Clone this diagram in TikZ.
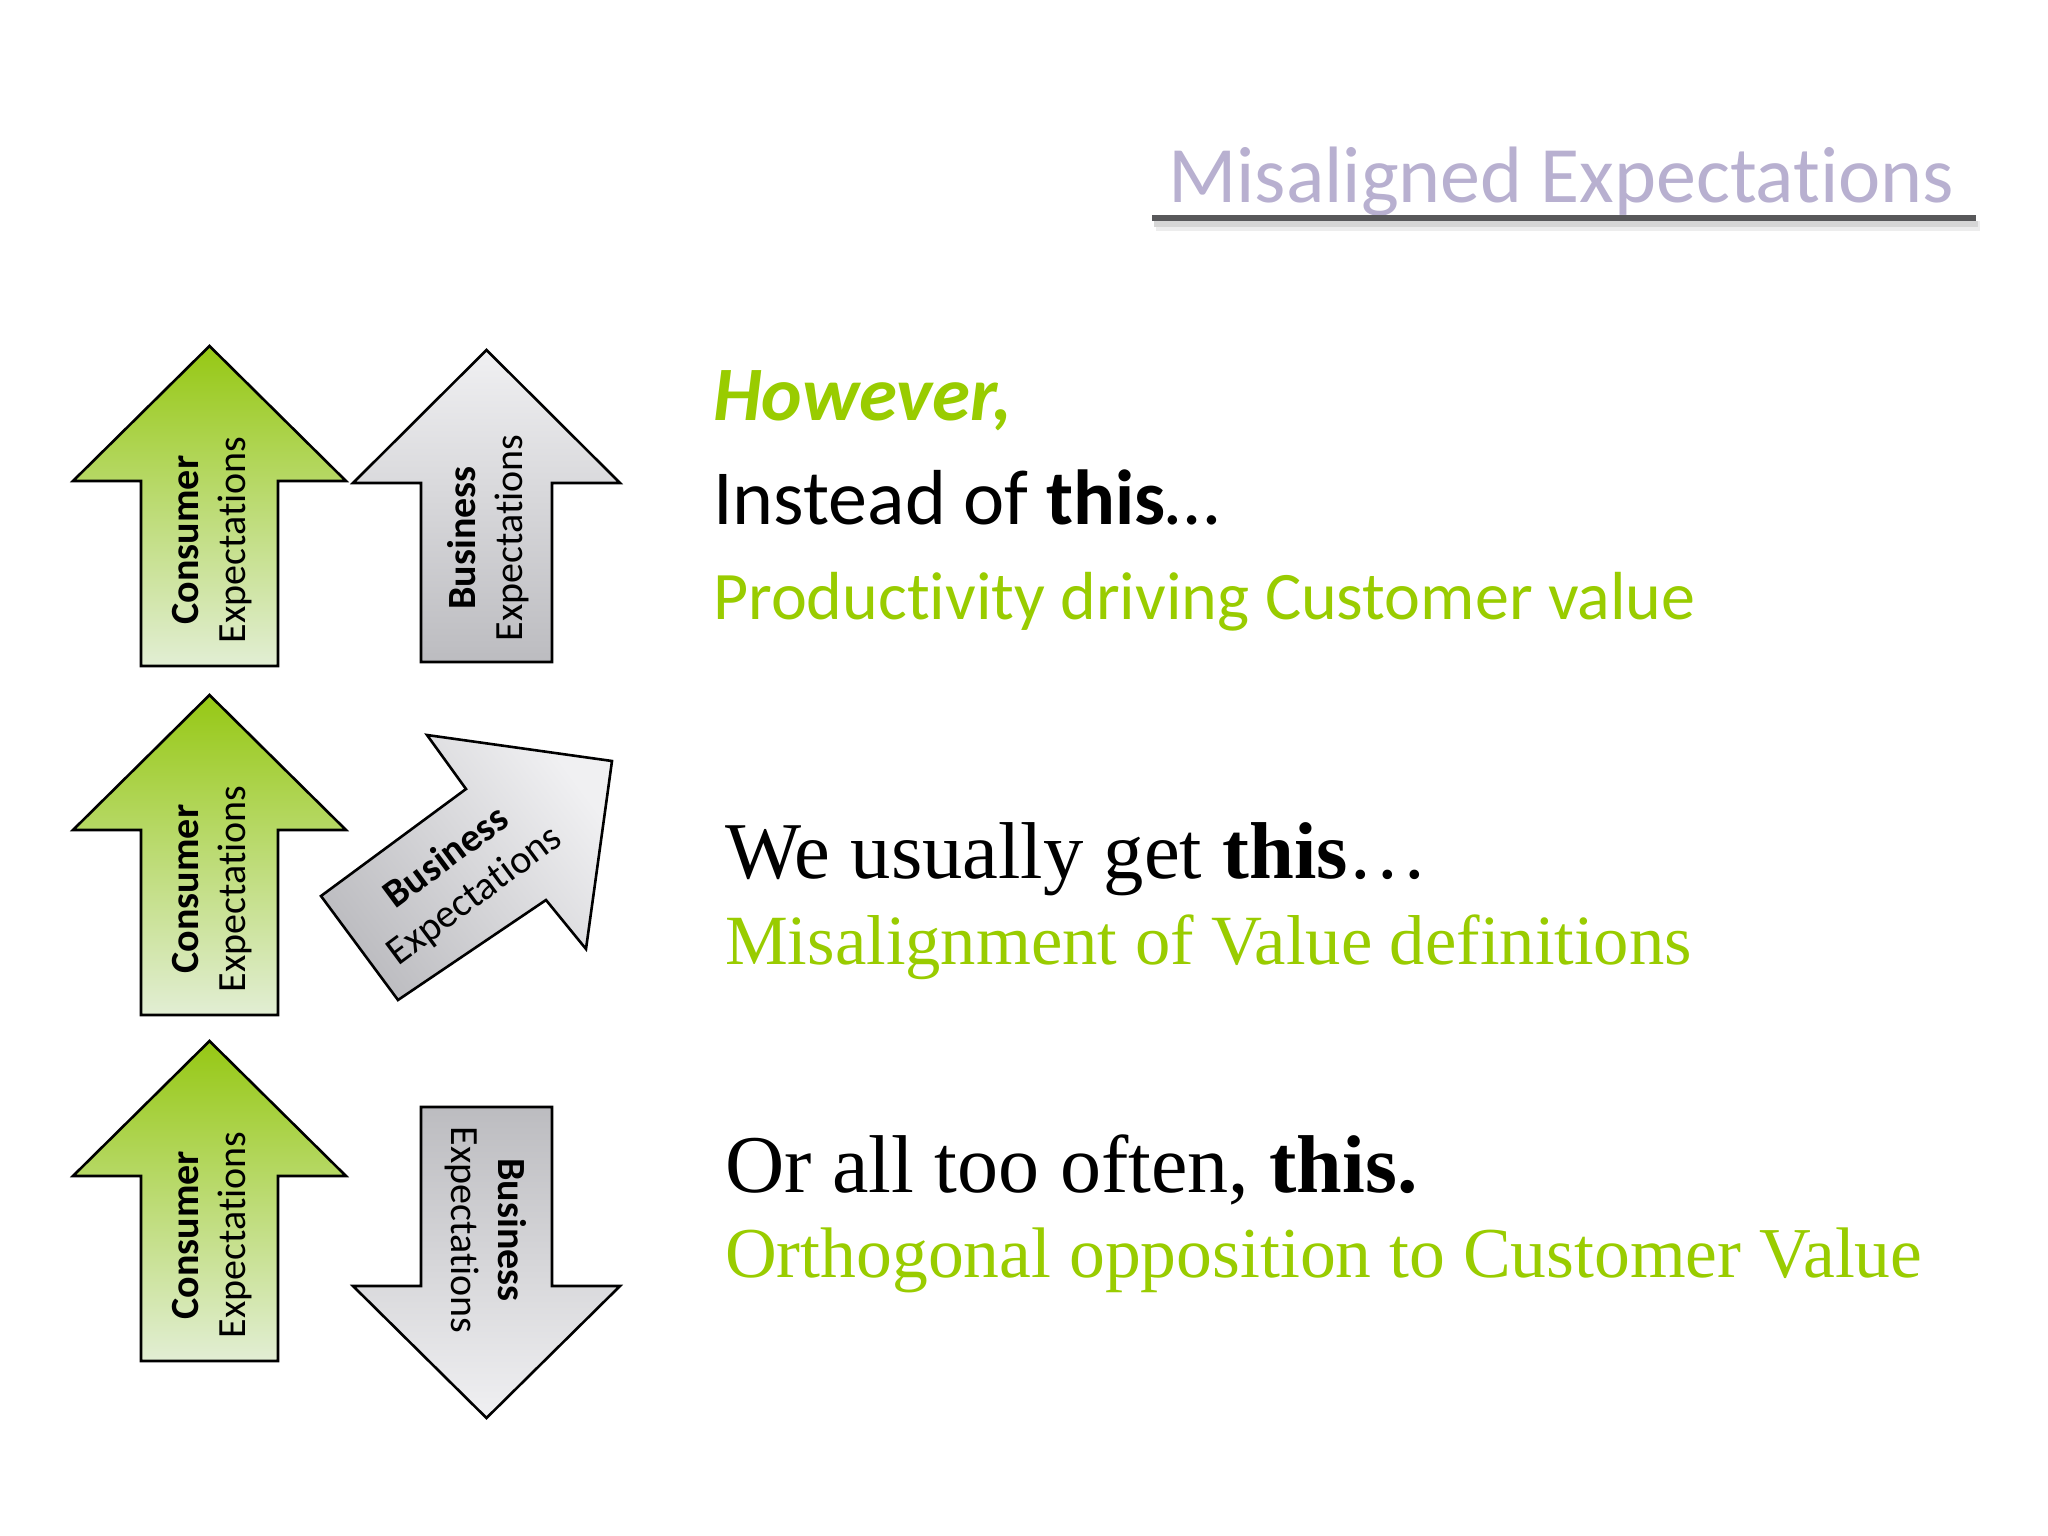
\documentclass[tikz,border=0pt]{standalone}
\usepackage{fontspec}
\setmainfont{Carlito}[Ligatures=NoCommon]
\newfontfamily\serifx{Liberation Serif}
\definecolor{accgreen}{RGB}{153,204,0}
\definecolor{titlecol}{RGB}{184,176,208}
\definecolor{ulcol}{RGB}{88,88,90}
\definecolor{cgtop}{RGB}{150,200,20}
\definecolor{cgbot}{RGB}{226,238,212}
\definecolor{gylight}{RGB}{240,240,242}
\definecolor{gydark}{RGB}{188,188,192}
\begin{document}
\begin{tikzpicture}[x=1pt,y=-1pt,
  arrowline/.style={draw=black, line width=2.6pt, line join=miter},
  consumer/.style={arrowline, top color=cgtop, bottom color=cgbot},
  bizup/.style={arrowline, top color=gylight, bottom color=gydark},
  bizdown/.style={arrowline, top color=gydark, bottom color=gylight},
  bizdiag/.style={arrowline, top color=gylight, bottom color=gydark, shading angle=-53.4},
  lbl/.style={inner sep=0pt, align=center, font=\fontsize{40}{47}\selectfont},
  txt/.style={inner sep=0pt, anchor=base west}]
\useasboundingbox[fill=white] (0,0) rectangle (2048,1536);

% title
\node[txt, text=titlecol, font=\fontsize{80}{96}\selectfont] (title) at (1168,202) {Misaligned Expectations};
\coordinate (ul1) at (1152,218);
\coordinate (ul2) at (1976,218);
\draw[line width=10pt, black!7] (1156,226) -- (1980,226);
\draw[line width=6pt, black!16] (1154,224) -- (1978,224);
\draw[line width=5.5pt, ulcol] (ul1) -- (ul2);

% consumer arrows
\foreach \ty in {346,695,1041} {
  \path[consumer] (209.5,\ty) -- ++(136.5,135) -- ++(-68,0) -- ++(0,185) -- ++(-137,0) -- ++(0,-185) -- ++(-68,0) -- cycle;
}
\node[lbl, rotate=90] (ct1) at (212,540) {\textbf{Consumer}\\Expectations};
\node[lbl, rotate=90] (ct2) at (212,889) {\textbf{Consumer}\\Expectations};
\node[lbl, rotate=90] (ct3) at (212,1235) {\textbf{Consumer}\\Expectations};

% business arrow, row 1 (up)
\path[bizup] (486.5,350) -- ++(133.5,133) -- ++(-68,0) -- ++(0,179) -- ++(-131,0) -- ++(0,-179) -- ++(-68,0) -- cycle;
\node[lbl, rotate=90] (bt1) at (488,538) {\textbf{Business}\\Expectations};

% business arrow, row 2 (diagonal)
\path[bizdiag] (612,761) -- (586,949) -- (546,900) -- (398,1000) -- (321,896) -- (466,789) -- (427,735) -- cycle;
\node[lbl, rotate=36.6] (bt2) at (461,877) {\textbf{Business}\\Expectations};

% business arrow, row 3 (down)
\path[bizdown] (486.5,1418) -- ++(133.5,-132) -- ++(-68,0) -- ++(0,-179) -- ++(-131,0) -- ++(0,179) -- ++(-68,0) -- cycle;
\node[lbl, rotate=-90] (bt3) at (486,1230) {\textbf{Business}\\Expectations};

% texts
\node[txt, text=accgreen, font=\fontsize{77}{90}\selectfont\bfseries\itshape] (however) at (713,420) {However,};
\node[txt, font=\fontsize{78}{92}\selectfont] (instead) at (713,524) {Instead of \textbf{this}…};
\node[txt, text=accgreen, font=\fontsize{68}{80}\selectfont] (prod) at (713,619) {Productivity driving Customer value};

\node[txt, font=\serifx\fontsize{80.6}{94}\selectfont] (usually) at (725,878) {We usually get \textbf{this}…};
\node[txt, text=accgreen, font=\serifx\fontsize{70.6}{84}\selectfont] (misal) at (725,964) {Misalignment of Value definitions};

\node[txt, font=\serifx\fontsize{82}{96}\selectfont] (often) at (725,1192) {Or all too often, \textbf{this.}};
\node[txt, text=accgreen, font=\serifx\fontsize{71.6}{85}\selectfont] (ortho) at (725,1277) {Orthogonal opposition to Customer Value};
\end{tikzpicture}
\end{document}
